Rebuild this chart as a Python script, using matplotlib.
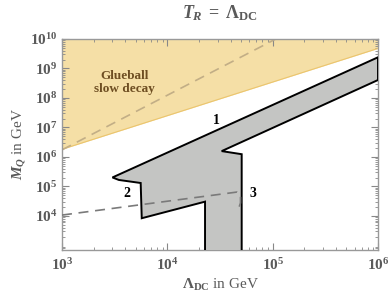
import matplotlib
matplotlib.use("Agg")
import matplotlib.pyplot as plt
import numpy as np
from matplotlib.ticker import LogLocator, FuncFormatter, NullFormatter, FixedLocator

plt.rcParams['font.family'] = ['Liberation Serif', 'DejaVu Serif']
plt.rcParams['font.weight'] = 'bold'
plt.rcParams['mathtext.fontset'] = 'custom'
plt.rcParams['mathtext.rm'] = 'Liberation Serif:bold'
plt.rcParams['mathtext.bf'] = 'Liberation Serif:bold'
plt.rcParams['mathtext.it'] = 'Liberation Serif:italic:bold'
plt.rcParams['mathtext.default'] = 'it'

# ---- data ----
xlim = [1e3, 1e6]
ylim = [700, 1e10]
xticks = [1e3, 1e4, 1e5, 1e6]
yticks = [1e4, 1e5, 1e6, 1e7, 1e8, 1e9, 1e10]

# glueball slow decay region (lower boundary)
glue_x = [1e3, 1e6]
glue_lo = [1.82e6, 4.79e9]
glue_hi = [1e11, 1e11]

# grey allowed region polygon
band_x = [3013, 1e6, 1e6, 3.28e4, 5.08e4, 5.08e4, 2.28e4, 2.28e4, 5715, 5585, 3467]
band_y = [2.02e5, 2.4e9, 4.07e8, 1.58e6, 1.24e6, 300, 300, 3.05e4, 8360, 1.31e5, 1.66e5]

# dashed lines
dash1_x = [1e3, 1.07e5]
dash1_y = [1.74e6, 1e10]
dash2_x = [1e3, 4.59e4, 4.95e4, 4.95e4, 4.69e4]
dash2_y = [1.07e4, 6.46e4, 5.5e4, 2.75e4, 1.58e4]

labels = ["1", "2", "3"]
label_x = [2.94e4, 4.11e3, 6.56e4]
label_y = [1.78e7, 5.9e4, 5.9e4]

gray = '#5a5a5a'

fig = plt.figure(figsize=(3.9, 3.03), dpi=100)
ax = fig.add_axes([62/390, 1-250/303, 316/390, 211/303])
ax.set_xscale('log')
ax.set_yscale('log')
ax.set_xlim(xlim)
ax.set_ylim(ylim)

ax.fill_between(glue_x, glue_lo, glue_hi, color='#F5DFA6', lw=0, zorder=1)
ax.plot(glue_x, glue_lo, color='#EBC56E', lw=0.8, zorder=2)
ax.plot(dash1_x, dash1_y, color='#C2AE86', lw=1.2, dashes=(6, 4), zorder=2)

ax.fill(band_x, band_y, facecolor='#C4C5C3', edgecolor='black', lw=1.4, zorder=3)
ax.plot(dash2_x, dash2_y, color='#7a7a7a', lw=1.2, dashes=(6, 4), zorder=4)

for t, x, y in zip(labels, label_x, label_y):
    ax.text(x, y, t, fontsize=10, fontweight='bold', ha='center', va='center', color='black', zorder=5)

ax.text(10**3.59, 10**8.52, "Glueball\nslow decay", fontsize=9.5, fontweight='bold',
        color='#6E4E22', ha='center', va='center', linespacing=1.15, zorder=5)

fmt = FuncFormatter(lambda v, p: r'$\mathrm{10^{%d}}$' % int(round(np.log10(v))))
ax.xaxis.set_major_locator(FixedLocator(xticks))
ax.yaxis.set_major_locator(FixedLocator(yticks))
ax.xaxis.set_minor_locator(LogLocator(base=10, subs=np.arange(2, 10), numticks=12))
ax.yaxis.set_minor_locator(LogLocator(base=10, subs=np.arange(2, 10), numticks=12))
ax.xaxis.set_major_formatter(fmt)
ax.yaxis.set_major_formatter(fmt)
ax.xaxis.set_minor_formatter(NullFormatter())
ax.yaxis.set_minor_formatter(NullFormatter())

ax.tick_params(which='both', direction='in', top=True, right=True, colors='#888888',
               labelcolor=gray, labelsize=11)
ax.tick_params(which='major', length=5, width=0.8)
ax.tick_params(which='minor', length=2.5, width=0.6)
ax.tick_params(axis='x', pad=5)
for s in ax.spines.values():
    s.set_color('#999999')
    s.set_linewidth(1.0)

ax.set_xlabel(r'$\mathrm{\Lambda_{DC}}$ in GeV', fontsize=11, color=gray, labelpad=3)
ax.set_ylabel(r'$M_{Q}$ in GeV', fontsize=11, color=gray, labelpad=2)
fig.text(220/390, 1-13/303, r'$T_{R}\;\mathrm{=}\;\mathrm{\Lambda_{DC}}$', fontsize=13, color=gray,
         ha='center', va='center')

fig.savefig('out.png', dpi=100)
